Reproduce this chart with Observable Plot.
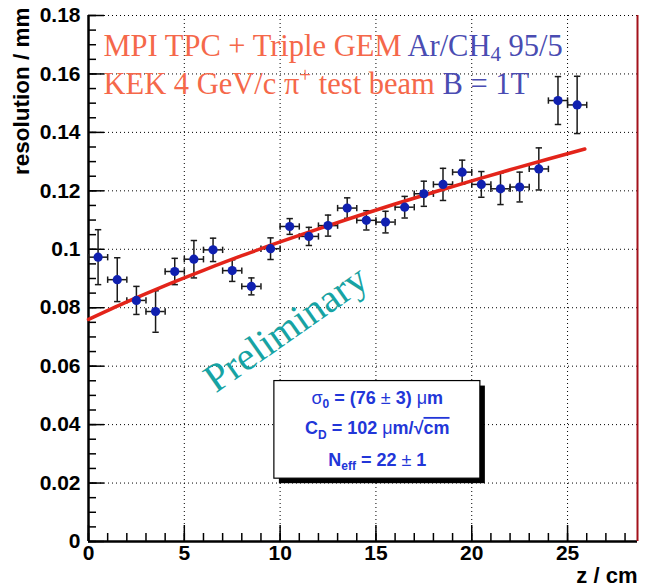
<!DOCTYPE html>
<html>
<head>
<meta charset="utf-8">
<script src="https://cdn.jsdelivr.net/npm/d3@7"></script>
<script src="https://cdn.jsdelivr.net/npm/@observablehq/plot@0.6"></script>
<style>
  body { margin: 0; background: #fff; }
  #chart svg { display: block; }
</style>
</head>
<body>
<div id="chart"></div>
<script>
// ---- data ----
const zCenters = [0.5, 1.5, 2.5, 3.5, 4.5, 5.5, 6.5, 7.5, 8.5, 9.5, 10.5, 11.5, 12.5,
                  13.5, 14.5, 15.5, 16.5, 17.5, 18.5, 19.5, 20.5, 21.5, 22.5, 23.5, 24.5, 25.5];
const resolution = [0.0973, 0.0896, 0.0825, 0.0787, 0.0924, 0.0966, 0.0998, 0.0927, 0.0873, 0.1002,
                    0.1078, 0.1044, 0.1081, 0.1141, 0.1099, 0.1093, 0.1144, 0.1190, 0.1222, 0.1264,
                    0.1222, 0.1207, 0.1213, 0.1275, 0.1509, 0.1494];
const resolutionErr = [0.0094, 0.0075, 0.0048, 0.0071, 0.0045, 0.0064, 0.0040, 0.0037, 0.0029, 0.0037,
                       0.0027, 0.0031, 0.0036, 0.0035, 0.0033, 0.0037, 0.0037, 0.0043, 0.0055, 0.0041,
                       0.0044, 0.0054, 0.0051, 0.0072, 0.0082, 0.0098];
const zHalfBin = 0.5;

// fit curve
const fitZ = [0, 2, 4, 6, 8, 10, 12, 14, 16, 18, 20, 22, 24, 25.9];
const fitResolution = [0.0760, 0.0820, 0.0876, 0.0928, 0.0978, 0.1025, 0.1070, 0.1113,
                       0.1155, 0.1195, 0.1234, 0.1272, 0.1309, 0.1343];

const xDomain = [0, 28.65];
const yDomain = [0, 0.18];
const xTicks = [0, 5, 10, 15, 20, 25];
const xTickLabels = ["0", "5", "10", "15", "20", "25"];
const xMinorTicks = d3.range(0, 29, 1);
const yTicks = [0, 0.02, 0.04, 0.06, 0.08, 0.1, 0.12, 0.14, 0.16, 0.18];
const yTickLabels = ["0", "0.02", "0.04", "0.06", "0.08", "0.1", "0.12", "0.14", "0.16", "0.18"];
const yMinorTicks = d3.range(0, 37).map(i => +(i * 0.005).toFixed(3));

const xTitle = "z / cm";
const yTitle = "resolution / mm";
const headerLine1 = "MPI TPC + Triple GEM Ar/CH4 95/5";
const headerLine2 = "KEK 4 GeV/c π+ test beam B = 1T";
const watermark = "Preliminary";
const statsLines = ["σ0 = (76 ± 3) μm", "CD = 102 μm/√cm", "Neff = 22 ± 1"];

// annotation anchors (in data units)
const statsBox = {z1: 9.70, z2: 20.45, r1: 0.0215, r2: 0.0549};
const statsTextZ = 15.07;
const statsTextR = [0.0472, 0.0368, 0.0260];
const watermarkPos = {z: 10.3, r: 0.0728};

// ---- colours ----
const coral = "#f5684a";
const slate = "#4a4cb2";
const markerBlue = "#1020b0";
const fitRed = "#e3241a";
const statsBlue = "#2236d8";
const teal = "#17a3a3";

const points = zCenters.map((z, i) => ({z, r: resolution[i], e: resolutionErr[i]}));
const fit = fitZ.map((z, i) => ({z, r: fitResolution[i]}));

const hCap = {draw(ctx, size) { const w = Math.sqrt(size) / 2; ctx.moveTo(-w, 0); ctx.lineTo(w, 0); }};
const vCap = {draw(ctx, size) { const w = Math.sqrt(size) / 2; ctx.moveTo(0, -w); ctx.lineTo(0, w); }};

const sans = "Liberation Sans, Arial, Helvetica, sans-serif";
const serif = "Liberation Serif, Times New Roman, serif";
const dotted = "1,3";

const chart = Plot.plot({
  width: 652,
  height: 586,
  marginLeft: 88,
  marginRight: 15,
  marginTop: 15,
  marginBottom: 45,
  style: {fontFamily: sans, fontSize: "21px", fontWeight: "bold", background: "white", color: "black"},
  x: {domain: xDomain},
  y: {domain: yDomain},
  marks: [
    // grid
    Plot.ruleX(xTicks.filter(d => d > 0), {stroke: "black", strokeDasharray: dotted, strokeWidth: 1}),
    Plot.ruleY(yTicks.filter(d => d > 0), {stroke: "black", strokeDasharray: dotted, strokeWidth: 1}),

    // axes
    Plot.axisY(yMinorTicks, {anchor: "left", tickSize: -8, tickPadding: 24, tickFormat: () => "", label: null, strokeWidth: 1.5}),
    Plot.axisY(yTicks, {anchor: "left", tickSize: -16, tickPadding: 24, label: null, strokeWidth: 1.5,
      tickFormat: d => yTickLabels[yTicks.indexOf(d)], fontSize: 21, fontWeight: "bold", fontFamily: sans}),
    Plot.axisX(xMinorTicks, {anchor: "bottom", tickSize: -8, tickPadding: 20, tickFormat: () => "", label: null, strokeWidth: 1.5}),
    Plot.axisX(xTicks, {anchor: "bottom", tickSize: -16, tickPadding: 20, label: null, strokeWidth: 1.5,
      tickFormat: d => xTickLabels[xTicks.indexOf(d)], fontSize: 21, fontWeight: "bold", fontFamily: sans}),
    Plot.ruleX([xDomain[0]], {stroke: "black", strokeWidth: 2.5}),
    Plot.ruleY([yDomain[0]], {stroke: "black", strokeWidth: 2.5}),
    Plot.ruleX([xDomain[1]], {stroke: "#a3121b", strokeWidth: 2}),

    // stats box
    Plot.rect([statsBox], {x1: "z1", x2: "z2", y1: "r1", y2: "r2", fill: "black", dx: 5, dy: 5}),
    Plot.rect([statsBox], {x1: "z1", x2: "z2", y1: "r1", y2: "r2", fill: "white", stroke: "black", strokeWidth: 1.2}),
    Plot.text(statsLines, {text: d => d, x: () => statsTextZ, y: (d, i) => statsTextR[i],
      textAnchor: "middle", lineAnchor: "bottom", fontSize: 18, fontWeight: "bold", fontFamily: sans, fill: statsBlue}),

    // error bars
    Plot.ruleX(points, {x: "z", y1: d => d.r - d.e, y2: d => d.r + d.e, stroke: "#1a1a1a", strokeWidth: 1.5}),
    Plot.ruleY(points, {y: "r", x1: d => d.z - zHalfBin, x2: d => d.z + zHalfBin, stroke: "#1a1a1a", strokeWidth: 1.5}),
    Plot.dot(points, {x: "z", y: d => d.r + d.e, symbol: hCap, r: 3.6, stroke: "#1a1a1a", strokeWidth: 1.5, fill: "none"}),
    Plot.dot(points, {x: "z", y: d => d.r - d.e, symbol: hCap, r: 3.6, stroke: "#1a1a1a", strokeWidth: 1.5, fill: "none"}),
    Plot.dot(points, {x: d => d.z - zHalfBin, y: "r", symbol: vCap, r: 3.6, stroke: "#1a1a1a", strokeWidth: 1.5, fill: "none"}),
    Plot.dot(points, {x: d => d.z + zHalfBin, y: "r", symbol: vCap, r: 3.6, stroke: "#1a1a1a", strokeWidth: 1.5, fill: "none"}),

    // fit
    Plot.line(fit, {x: "z", y: "r", stroke: fitRed, strokeWidth: 3.5, curve: "natural"}),

    // markers
    Plot.dot(points, {x: "z", y: "r", r: 4.6, fill: markerBlue, stroke: "none"}),

    // watermark
    Plot.text([watermark], {text: d => d, x: () => watermarkPos.z, y: () => watermarkPos.r, rotate: -35,
      textAnchor: "middle", lineAnchor: "middle", fontSize: 40, fontWeight: "normal", fontFamily: serif, fill: teal}),

    // header text
    Plot.text([headerLine1], {text: d => d, frameAnchor: "top-left", textAnchor: "start", lineAnchor: "bottom",
      dx: 15, dy: 40, fontSize: 30.5, fontWeight: "normal", fontFamily: serif, fill: coral}),
    Plot.text([headerLine2], {text: d => d, frameAnchor: "top-left", textAnchor: "start", lineAnchor: "bottom",
      dx: 15, dy: 78, fontSize: 30.5, fontWeight: "normal", fontFamily: serif, fill: coral}),

    // axis titles
    Plot.text([yTitle], {text: d => d, frameAnchor: "top-left", rotate: -90, textAnchor: "end", lineAnchor: "middle",
      dx: -67, dy: -8, fontSize: 22.5, fontWeight: "bold", fontFamily: sans, fill: "black"}),
    Plot.text([xTitle], {text: d => d, frameAnchor: "bottom-right", textAnchor: "end", lineAnchor: "bottom",
      dy: 41, fontSize: 22, fontWeight: "bold", fontFamily: sans, fill: "black"})
  ]
});

// ---- rich text (colours, sub/superscripts) ----
const NS = "http://www.w3.org/2000/svg";
function rich(svg, key, parts, fontSize, subShift = 0.26) {
  svg.querySelectorAll("text").forEach(t => {
    if (t.textContent !== key) return;
    while (t.firstChild) t.removeChild(t.firstChild);
    let shift = 0;
    for (const p of parts) {
      const ts = document.createElementNS(NS, "tspan");
      ts.textContent = p.t;
      if (p.fill) ts.setAttribute("fill", p.fill);
      let target = 0;
      if (p.sub) target = fontSize * subShift;
      if (p.sup) target = -fontSize * 0.38;
      if (p.sub || p.sup) ts.setAttribute("font-size", Math.round(fontSize * 0.68));
      if (target !== shift) { ts.setAttribute("dy", target - shift); shift = target; }
      if (p.weight) ts.setAttribute("font-weight", p.weight);
      if (p.overline) ts.setAttribute("text-decoration", "overline");
      t.appendChild(ts);
    }
  });
}
rich(chart, headerLine1, [
  {t: "MPI TPC + Triple GEM ", fill: coral},
  {t: "Ar/CH", fill: slate},
  {t: "4", fill: slate, sub: true},
  {t: " 95/5", fill: slate}
], 30.5, 0.17);
rich(chart, headerLine2, [
  {t: "KEK 4 GeV/c π", fill: coral},
  {t: "+", fill: coral, sup: true},
  {t: " test beam ", fill: coral},
  {t: "B = 1T", fill: slate}
], 30.5);
rich(chart, statsLines[0], [
  {t: "σ", weight: "normal"}, {t: "0", sub: true}, {t: " = (76 "}, {t: "±", weight: "normal"}, {t: " 3) "}, {t: "μ", weight: "normal"}, {t: "m"}
], 18);
rich(chart, statsLines[1], [
  {t: "C"}, {t: "D", sub: true}, {t: " = 102 "}, {t: "μ", weight: "normal"}, {t: "m/√"}, {t: "cm", overline: true}
], 18);
rich(chart, statsLines[2], [
  {t: "N"}, {t: "eff", sub: true}, {t: " = 22 "}, {t: "±", weight: "normal"}, {t: " 1"}
], 18);

document.getElementById("chart").appendChild(chart);
</script>
</body>
</html>
